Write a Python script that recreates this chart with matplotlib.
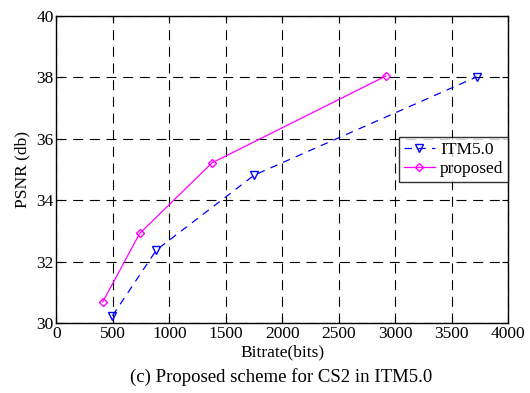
import matplotlib
matplotlib.use("Agg")
import matplotlib.pyplot as plt

# PSNR vs bitrate for the two coders
itm_bitrate = [496, 885, 1752, 3722]
itm_psnr = [30.24, 32.38, 34.82, 38.02]

prop_bitrate = [410, 737, 1378, 2918]
prop_psnr = [30.69, 32.92, 35.22, 38.05]

x_ticks = [0, 500, 1000, 1500, 2000, 2500, 3000, 3500, 4000]
y_ticks = [30, 32, 34, 36, 38, 40]

plt.rcParams['font.family'] = ['Liberation Serif', 'DejaVu Serif']

fig = plt.figure(figsize=(5.3, 3.93), dpi=100)
ax = fig.add_axes([0.1066, 0.178, 0.852, 0.781])

ax.plot(itm_bitrate, itm_psnr, linestyle=(0, (6, 5)), color='#0000ff', lw=0.9,
        marker='v', markersize=6, markerfacecolor='none', markeredgecolor='#0000ff',
        markeredgewidth=1.0, label='ITM5.0')
ax.plot(prop_bitrate, prop_psnr, '-', color='#ff00ff', lw=0.9,
        marker='D', markersize=4, markerfacecolor='none', markeredgecolor='#ff00ff',
        markeredgewidth=1.0, label='proposed')

ax.set_xlim(0, 4000)
ax.set_ylim(30, 40)
ax.set_xticks(x_ticks)
ax.set_yticks(y_ticks)
ax.grid(True, color='black', linestyle=(0, (9, 6)), linewidth=0.8)
ax.tick_params(direction='in', top=True, right=True, length=4, labelsize=12.5, pad=2)
for s in ax.spines.values():
    s.set_linewidth(1.0)

ax.set_xlabel('Bitrate(bits)', fontsize=12.5, labelpad=2)
ax.set_ylabel('PSNR (db)', fontsize=12.5, labelpad=4)

leg = ax.legend(loc='upper right', bbox_to_anchor=(1.0, 0.605), fontsize=12.5,
                frameon=True, fancybox=False, borderpad=0.25, labelspacing=0.2,
                handlelength=1.8, handletextpad=0.3, borderaxespad=0)
leg.get_frame().set_edgecolor('black')
leg.get_frame().set_linewidth(1.0)

fig.text(0.53, 0.028, '(c) Proposed scheme for CS2 in ITM5.0', ha='center', fontsize=13.5)

fig.savefig('out.png', dpi=100)
